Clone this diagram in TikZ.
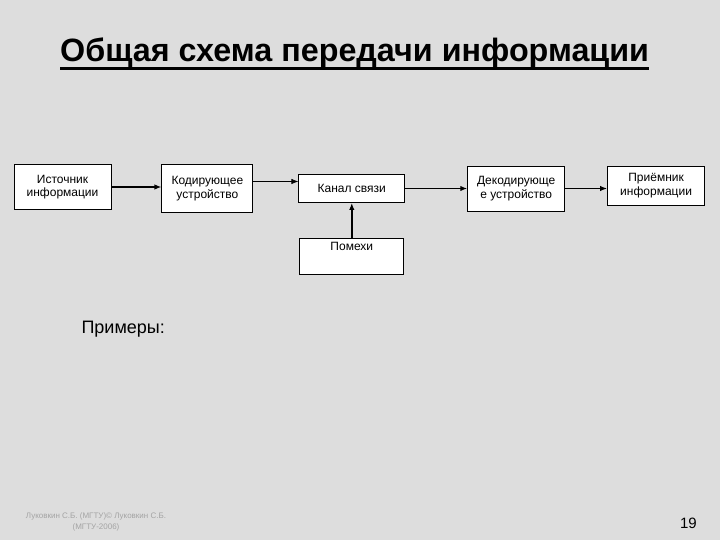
\documentclass[tikz,border=0pt]{standalone}
\usepackage{fontspec}
\setmainfont{Liberation Sans}
\usetikzlibrary{arrows.meta, positioning}
\definecolor{SlideGrey}{HTML}{DDDDDD}
\definecolor{FootGrey}{HTML}{A4A4A4}

\begin{document}
\begin{tikzpicture}[x=1pt, y=-1pt, node distance=45pt, >={Latex[length=7pt,width=5.5pt]}, every node/.style={font=\fontsize{12}{13.5}\selectfont}]
    \tikzstyle{block} = [rectangle, draw=black, fill=white, line width=0.9pt, align=center, minimum width=97pt, minimum height=45pt, inner sep=2pt]
    \tikzstyle{line} = [draw, ->, line width=1.7pt]

    \fill[SlideGrey] (0,0) rectangle (720,540);
    \useasboundingbox (0,0) rectangle (720,540);

    % title
    \node [anchor=base west, inner sep=0pt, font=\bfseries\fontsize{32.3}{34}\selectfont] (title) at (60,62) {Общая схема передачи информации};
    \draw [line width=2.2pt] ([yshift=-6.5pt]title.base west) -- ([yshift=-6.5pt]title.base east);

    \node [block] (source) at (62.5,187) {Источник\\информации};
    \node [block, minimum width=91pt, minimum height=48pt, right=50pt of source.north east, anchor=north west] (coder) {Кодирующее\\устройство};
    \node [block, minimum width=106pt, minimum height=28pt, right=45pt of coder] (channel) {Канал связи};
    \node [block, right=62pt of channel] (decoder) {Декодирующе\\е устройство};
    \node [block, minimum height=39pt, right=42pt of decoder.north east, anchor=north west] (receiver) {Приёмник\\информации};
    \node [block, minimum width=104pt, minimum height=36pt, text height=8pt, text depth=20pt, below=35pt of channel] (noise) {Помехи};

    \path [line] (source) -- (source -| coder.west);
    \draw [line width=1.7pt] ([yshift=7pt]coder.east) -- ++(16pt,0);
    \path [draw, ->, line width=0.8pt] ([yshift=7pt]coder.east) -- ([yshift=7pt]channel.west);
    \path [line] (channel) -- (channel -| decoder.west);
    \path [line] (decoder) -- (decoder -| receiver.west);
    \path [line] (noise) -- (channel);

    \node [anchor=base west, font=\fontsize{18}{20}\selectfont] (examples) at (78,333) {Примеры:};

    % footer
    \node [align=center, text=FootGrey, font=\fontsize{8}{10.5}\selectfont] (author) at (96,522) {Луковкин С.Б. (МГТУ)© Луковкин С.Б.\\(МГТУ-2006)};
    \node [anchor=base east, inner sep=0pt, font=\fontsize{15}{17}\selectfont] (page) at (697,528) {19};
\end{tikzpicture}
\end{document}
